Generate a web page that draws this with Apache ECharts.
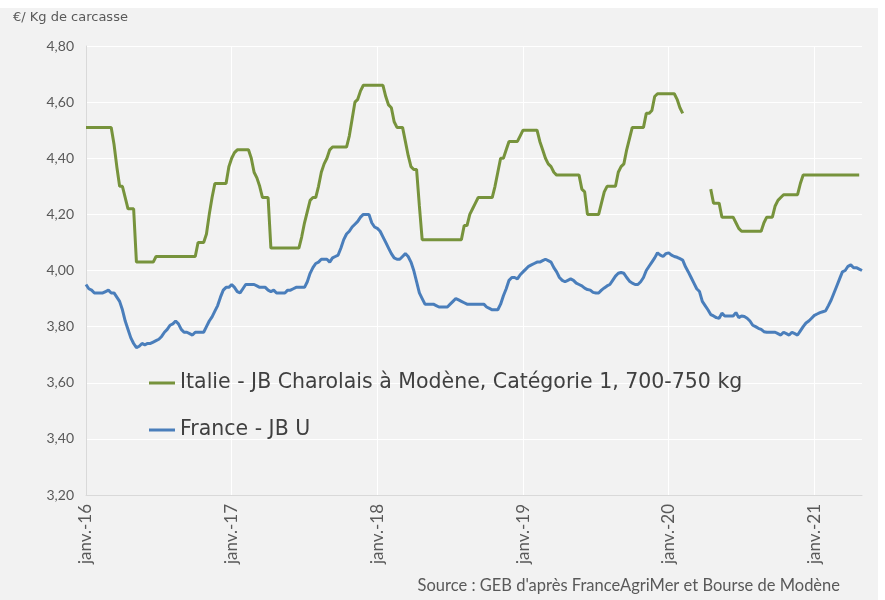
<!DOCTYPE html>
<html>
<head>
<meta charset="utf-8">
<script src="https://cdn.jsdelivr.net/npm/echarts@6/dist/echarts.min.js"></script>
<style>
  html, body { margin: 0; padding: 0; background: #ffffff; }
  #chart { position: absolute; left: 0; top: 8px; width: 878px; height: 592px; background: #f2f2f2; }
</style>
</head>
<body>
<div id="chart"></div>
<script>
// libellés des années (un tick par janvier)
var yearLabels = ['janv.-16', 'janv.-17', 'janv.-18', 'janv.-19', 'janv.-20', 'janv.-21'];
var weeksPerYear = 52;

// Italie - JB Charolais à Modène (hebdo)
var italie2016 = [4.51,4.51,4.51,4.51,4.51,4.51,4.51,4.51,4.51,4.51,
  4.45,4.37,4.30,4.30,4.26,4.22,4.22,4.22,
  4.03,4.03,4.03,4.03,4.03,4.03,4.03,
  4.05,4.05,4.05,4.05,4.05,4.05,4.05,4.05,4.05,4.05,4.05,4.05,4.05,4.05,4.05,
  4.10,4.10,4.10,
  4.13,4.20,4.26,4.31,4.31,4.31,4.31,4.31,4.37];
var italie2017 = [4.40,4.42,4.43,4.43,4.43,4.43,4.43,
  4.40,4.35,4.33,4.30,4.26,4.26,4.26,
  4.08,4.08,4.08,4.08,4.08,4.08,4.08,4.08,4.08,4.08,4.08,
  4.12,4.17,4.21,4.25,4.26,4.26,4.30,4.35,4.38,4.40,4.43,
  4.44,4.44,4.44,4.44,4.44,4.44,
  4.48,4.54,4.60,4.61,4.64,
  4.66,4.66,4.66,4.66,4.66];
var italie2018 = [4.66,4.66,4.66,
  4.62,4.59,4.58,4.53,4.51,4.51,4.51,4.46,4.41,4.37,4.36,4.36,4.23,
  4.11,4.11,4.11,4.11,4.11,4.11,4.11,4.11,4.11,4.11,4.11,4.11,4.11,4.11,4.11,
  4.16,4.16,4.20,4.22,4.24,
  4.26,4.26,4.26,4.26,4.26,4.26,
  4.30,4.35,4.40,4.40,4.43,
  4.46,4.46,4.46,4.46,4.48];
var italie2019 = [4.50,4.50,4.50,4.50,4.50,4.50,
  4.46,4.43,4.40,4.38,4.37,4.35,
  4.34,4.34,4.34,4.34,4.34,4.34,4.34,4.34,4.34,
  4.29,4.28,
  4.20,4.20,4.20,4.20,4.20,
  4.24,4.28,
  4.30,4.30,4.30,4.30,
  4.35,4.37,4.38,4.43,4.47,
  4.51,4.51,4.51,4.51,4.51,
  4.56,4.56,4.57,4.62,
  4.63,4.63,4.63,4.63];
var italie2020 = [4.63,4.63,4.63,4.61,4.58,4.56,
  null,null,null,null,null,null,null,null,null,
  4.29,4.24,4.24,4.24,
  4.19,4.19,4.19,4.19,4.19,
  4.17,4.15,
  4.14,4.14,4.14,4.14,4.14,4.14,4.14,4.14,
  4.17,4.19,4.19,4.19,
  4.23,4.25,4.26,
  4.27,4.27,4.27,4.27,4.27,4.27,
  4.31,4.34,4.34,4.34,4.34];
var italie2021 = [4.34,4.34,4.34,4.34,4.34,4.34,4.34,4.34,4.34,4.34,4.34,4.34,4.34,4.34,4.34,4.34,4.34,null];

// France - JB U (hebdo)
var france2016 = [3.95,3.935,3.93,3.92,3.92,3.92,3.92,3.925,3.93,3.92,3.92,3.905,3.89,3.86,3.82,3.79,3.76,3.74,3.725,3.73,
  3.74,3.735,3.74,3.74,3.745,3.75,3.755,3.765,3.78,3.79,3.805,3.81,3.82,3.81,3.79,3.78,3.78,3.775,3.77,3.78,
  3.78,3.78,3.78,3.80,3.82,3.835,3.855,3.875,3.905,3.93,3.94,3.94];
var france2017 = [3.95,3.94,3.925,3.92,3.935,3.95,3.95,3.95,3.95,3.945,3.94,3.94,3.94,3.93,3.925,3.93,3.92,3.92,3.92,3.92,
  3.93,3.93,3.935,3.94,3.94,3.94,3.94,3.96,3.99,4.01,4.025,4.03,4.04,4.04,4.04,4.03,4.045,4.05,4.055,4.08,
  4.11,4.13,4.14,4.155,4.165,4.175,4.19,4.20,4.20,4.20,4.17,4.155];
var france2018 = [4.15,4.14,4.12,4.10,4.08,4.06,4.045,4.04,4.04,4.05,4.06,4.05,4.03,4.00,3.96,3.92,3.90,3.88,3.88,3.88,
  3.88,3.875,3.87,3.87,3.87,3.87,3.88,3.89,3.90,3.895,3.89,3.885,3.88,3.88,3.88,3.88,3.88,3.88,3.88,3.87,
  3.865,3.86,3.86,3.86,3.88,3.91,3.935,3.965,3.975,3.975,3.97,3.985];
var france2019 = [3.995,4.005,4.015,4.02,4.025,4.03,4.03,4.035,4.04,4.035,4.03,4.01,3.995,3.975,3.965,3.96,3.965,3.97,3.965,3.955,
  3.95,3.945,3.937,3.932,3.93,3.922,3.92,3.92,3.93,3.938,3.945,3.95,3.965,3.98,3.99,3.993,3.99,3.975,3.962,3.955,
  3.95,3.95,3.96,3.975,4.00,4.015,4.03,4.045,4.063,4.055,4.05,4.06];
var france2020 = [4.063,4.055,4.05,4.047,4.042,4.037,4.013,3.995,3.975,3.955,3.935,3.925,3.89,3.875,3.86,3.843,3.838,3.832,3.83,3.848,
  3.838,3.838,3.838,3.838,3.85,3.832,3.838,3.836,3.83,3.82,3.805,3.80,3.794,3.79,3.782,3.78,3.78,3.78,3.78,3.775,
  3.77,3.78,3.775,3.77,3.78,3.775,3.77,3.785,3.80,3.813,3.82,3.83];
var france2021 = [3.84,3.845,3.85,3.853,3.856,3.875,3.895,3.92,3.945,3.97,3.995,4.00,4.015,4.02,4.01,4.01,4.005,4.00];

var italie = [].concat(italie2016, italie2017, italie2018, italie2019, italie2020, italie2021);
var france = [].concat(france2016, france2017, france2018, france2019, france2020, france2021);

// catégories : une par semaine
var weeks = [];
for (var i = 0; i < france.length; i++) {
    weeks.push('S' + (i % weeksPerYear + 1) + '-' + (2016 + Math.floor(i / weeksPerYear)));
}

var isJanuary = function (index) { return index % weeksPerYear === 0; };

var myChart = echarts.init(document.getElementById('chart'));
var fontFamily = 'Lato, "DejaVu Sans", sans-serif';
var wideFont = '"DejaVu Sans", sans-serif';

option = {
    backgroundColor: '#f2f2f2',
    animation: false,
    textStyle: { fontFamily: fontFamily },
    grid: { left: 86, right: 16, top: 38, bottom: 105 },
    legend: {
        orient: 'vertical',
        left: 144,
        top: 358,
        itemGap: 23,
        itemWidth: 26,
        itemHeight: 3,
        icon: 'rect',
        textStyle: { fontSize: 20.5, color: '#404040', fontFamily: wideFont, lineHeight: 24 },
        data: ['Italie - JB Charolais à Modène, Catégorie 1, 700-750 kg', 'France - JB U']
    },
    xAxis: {
        type: 'category',
        boundaryGap: false,
        data: weeks,
        axisLine: { show: true, lineStyle: { color: '#d9d9d9', width: 1 } },
        axisTick: { show: false },
        axisLabel: {
            interval: isJanuary,
            rotate: 90,
            margin: 9,
            fontSize: 17,
            color: '#595959',
            formatter: function (value, index) {
                return yearLabels[Math.floor(index / weeksPerYear)] || '';
            }
        },
        splitLine: { show: true, interval: isJanuary, lineStyle: { color: '#ffffff', width: 1 } }
    },
    yAxis: {
        type: 'value',
        min: 3.2,
        max: 4.8,
        interval: 0.2,
        axisLine: { show: true, lineStyle: { color: '#d9d9d9', width: 1 } },
        axisTick: { show: false },
        axisLabel: {
            margin: 12,
            fontSize: 14,
            color: '#595959',
            formatter: function (v) { return v.toFixed(2).replace('.', ','); }
        },
        splitLine: { show: true, lineStyle: { color: '#ffffff', width: 1 } }
    },
    graphic: [
        {
            type: 'text', left: 13, top: 3,
            style: { text: '€/ Kg de carcasse', fontSize: 13, fill: '#595959', fontFamily: wideFont }
        },
        {
            type: 'text', right: 38, top: 569,
            style: { text: "Source : GEB d'après FranceAgriMer et Bourse de Modène", fontSize: 16.5, fill: '#595959', fontFamily: fontFamily }
        }
    ],
    series: [
        {
            name: 'Italie - JB Charolais à Modène, Catégorie 1, 700-750 kg',
            type: 'line',
            data: italie,
            symbol: 'none',
            connectNulls: false,
            itemStyle: { color: '#77933c' },
            lineStyle: { color: '#77933c', width: 3 }
        },
        {
            name: 'France - JB U',
            type: 'line',
            data: france,
            symbol: 'none',
            itemStyle: { color: '#4a7ebb' },
            lineStyle: { color: '#4a7ebb', width: 3 }
        }
    ]
};

myChart.setOption(option);
</script>
</body>
</html>
